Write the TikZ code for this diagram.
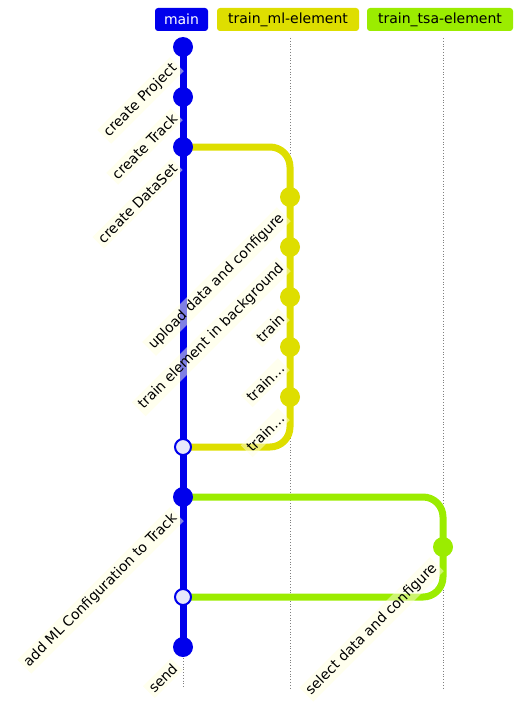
\documentclass[tikz,border=0pt]{standalone}
\usepackage{fontspec}
\setmainfont{DejaVu Sans}
\usetikzlibrary{calc}
\definecolor{gitmain}{HTML}{0000EC}
\definecolor{gitml}{HTML}{DEDE00}
\definecolor{gittsa}{HTML}{9BEC00}
\definecolor{labelbg}{HTML}{FFFFDE}
\definecolor{mergefill}{HTML}{E8E8FA}
\tikzset{
    branchlabel/.style={rectangle, rounded corners=3pt, minimum height=23pt, inner sep=0pt, font=\fontsize{14}{16}\selectfont},
    lane/.style={gray, line width=0.8pt, dotted},
    branchline/.style={line width=7pt, rounded corners=20pt},
    commit/.style={circle, minimum size=20pt, inner sep=0pt},
    mergecommit/.style={circle, minimum size=16pt, inner sep=0pt, draw=gitmain, line width=2pt, fill=mergefill},
    clabel/.style={rotate=45, anchor=east, fill=labelbg, fill opacity=0.5, text opacity=1, inner sep=3pt, font=\fontsize{14}{16}\selectfont}
}
\begin{document}
\begin{tikzpicture}[x=1pt, y=-1pt]
    \useasboundingbox (0,0) rectangle (526,709);

    % Branch names
    \node[branchlabel, fill=gitmain, text=white, minimum width=53pt] (bmain) at (181.5,19.5) {main};
    \node[branchlabel, fill=gitml, minimum width=142pt] (bml) at (288,19.5) {train\_ml-element};
    \node[branchlabel, fill=gittsa, minimum width=146pt] (btsa) at (440,19.5) {train\_tsa-element};

    % Lanes
    \coordinate (mltop) at (290,38);
    \coordinate (mlend) at (290,688);
    \coordinate (tsatop) at (443,38);
    \coordinate (tsaend) at (443,688);
    \coordinate (mainend) at (183,688);

    % Commits
    \node[commit] (c1) at (183,47) {};
    \node[commit] (c2) at (183,97) {};
    \node[commit] (c3) at (183,147) {};
    \node[commit] (c4) at (290,197) {};
    \node[commit] (c5) at (290,247) {};
    \node[commit] (c6) at (290,297) {};
    \node[commit] (c7) at (290,347) {};
    \node[commit] (c8) at (290,397) {};
    \node[commit] (m1) at (183,447) {};
    \node[commit] (c9) at (183,497) {};
    \node[commit] (c10) at (443,547) {};
    \node[commit] (m2) at (183,597) {};
    \node[commit] (c11) at (183,647) {};

    \draw[lane] (mltop) -- (mlend);
    \draw[lane] (tsatop) -- (tsaend);
    \draw[lane] (c11.center) -- (mainend);

    % Branch lines
    \draw[branchline, gitmain] (c1.center) -- (c11.center);
    \draw[branchline, gitml] (c3.center) -- (c3.center -| c4.center) -- (c4.center |- m1.center) -- (m1.center);
    \draw[branchline, gittsa] (c9.center) -- (c9.center -| c10.center) -- (c10.center |- m2.center) -- (m2.center);

    % Commit dots
    \foreach \c in {c1,c2,c3,c9,c11}
        \fill[gitmain] (\c) circle (10pt);
    \foreach \c in {c4,c5,c6,c7,c8}
        \fill[gitml] (\c) circle (10pt);
    \fill[gittsa] (c10) circle (10pt);
    \node[mergecommit] at (m1) {};
    \node[mergecommit] at (m2) {};

    % Commit messages
    \node[clabel] (l1) at ($(c1)+(-6,17)$) {create Project};
    \node[clabel] (l2) at ($(c2)+(-6,17)$) {create Track};
    \node[clabel] (l3) at ($(c3)+(-6,17)$) {create DataSet};
    \node[clabel] (l4) at ($(c4)+(-6,17)$) {upload data and configure};
    \node[clabel] (l5) at ($(c5)+(-6,17)$) {train element in background};
    \node[clabel] (l6) at ($(c6)+(-6,17)$) {train};
    \node[clabel] (l7) at ($(c7)+(-6,17)$) {train…};
    \node[clabel] (l8) at ($(c8)+(-6,17)$) {train…};
    \node[clabel] (l9) at ($(c9)+(-6,17)$) {add ML Configuration to Track};
    \node[clabel] (l10) at ($(c10)+(-6,17)$) {select data and configure};
    \node[clabel] (l11) at ($(c11)+(-6,17)$) {send};
\end{tikzpicture}
\end{document}
